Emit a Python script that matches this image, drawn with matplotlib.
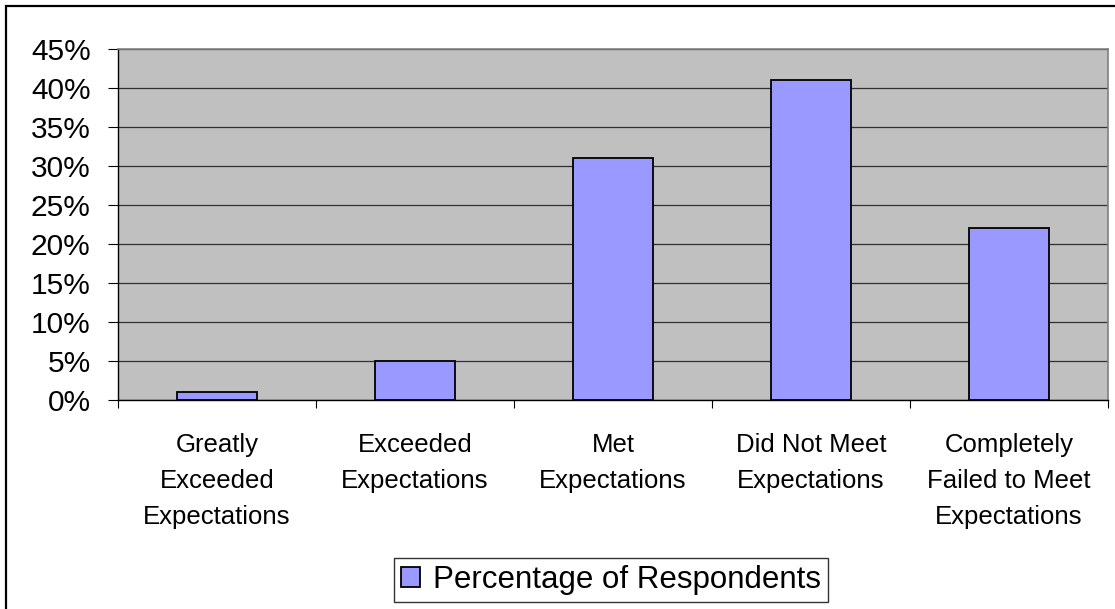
import matplotlib
matplotlib.use("Agg")
import matplotlib.pyplot as plt
from matplotlib.patches import Rectangle
from matplotlib.ticker import FixedLocator, NullFormatter

categories = ["Greatly\nExceeded\nExpectations", "Exceeded\nExpectations",
              "Met\nExpectations", "Did Not Meet\nExpectations",
              "Completely\nFailed to Meet\nExpectations"]
values = [1, 5, 31, 41, 22]
yticks = [0, 5, 10, 15, 20, 25, 30, 35, 40, 45]
series_name = "Percentage of Respondents"

plt.rcParams['font.family'] = ['Liberation Sans', 'DejaVu Sans']

W, H = 1115, 609
fig = plt.figure(figsize=(W / 100, H / 100), dpi=100)
fig.patch.set_facecolor('white')

# outer chart border
fig.patches.append(Rectangle((6 / W, -0.1), 1.2, 1 - 6 / H + 0.1, transform=fig.transFigure,
                             fill=False, edgecolor='black', linewidth=1.6, zorder=0))

ax = fig.add_axes([118 / W, 1 - 400 / H, (1108 - 118) / W, (400 - 49) / H])
ax.set_facecolor('#C0C0C0')

x = list(range(len(values)))
ax.bar(x, values, width=0.405, color='#9999FF', edgecolor='black', linewidth=1.3,
       zorder=3, label=series_name)

ax.set_xlim(-0.5, len(values) - 0.5)
ax.set_ylim(0, 45)
ax.set_yticks(yticks)
ax.set_yticklabels([f"{v}%" for v in yticks], fontsize=21.5)
ax.yaxis.grid(True, color='#000000', linewidth=0.9, alpha=0.75, zorder=1)
ax.set_axisbelow(True)

ax.set_xticks(x)
ax.set_xticklabels(categories, fontsize=18.5, linespacing=1.62)
ax.tick_params(axis='x', which='major', length=0, pad=24)
ax.xaxis.set_minor_locator(FixedLocator([i + 0.5 for i in range(-1, len(values))]))
ax.xaxis.set_minor_formatter(NullFormatter())
ax.tick_params(axis='x', which='minor', length=5.8, width=0.8, color='black', direction='out')
ax.tick_params(axis='y', length=7.2, width=0.8, color='black', direction='out', pad=12.5)

for s in ['top', 'right']:
    ax.spines[s].set_color('#808080')
    ax.spines[s].set_linewidth(1.2)
for s in ['left', 'bottom']:
    ax.spines[s].set_color('black')
    ax.spines[s].set_linewidth(1.0)

leg = fig.legend(loc='center', bbox_to_anchor=(611 / W, 1 - 580 / H), fontsize=22.5,
                 frameon=True, fancybox=False, edgecolor='black', handlelength=0.62,
                 handleheight=0.62, handletextpad=0.4, borderpad=0.22, borderaxespad=0)
leg.get_frame().set_linewidth(1.0)

fig.savefig('out.png', dpi=100)
